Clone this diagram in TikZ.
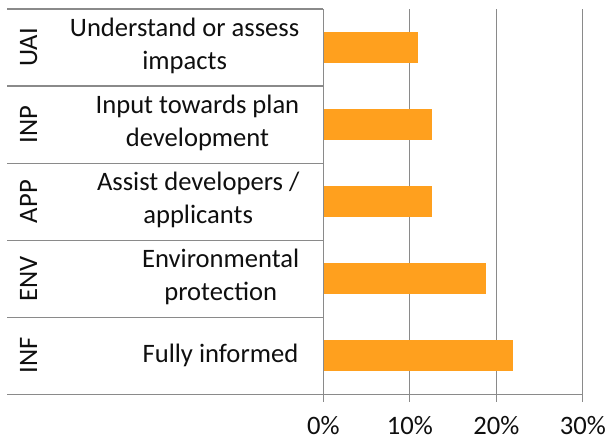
\documentclass[tikz,border=0pt]{standalone}
\usepackage{fontspec}
\setmainfont{Carlito}
\definecolor{gridgrey}{RGB}{138,138,138}
\definecolor{barorange}{RGB}{255,160,30}
\definecolor{txt}{RGB}{15,15,15}
\begin{document}
\begin{tikzpicture}[x=1pt,y=-1pt,
  gridline/.style={draw=gridgrey,line width=1.3pt},
  barbox/.style={fill=barorange,draw=none,inner sep=0pt,minimum height=31pt,anchor=west},
  catlab/.style={anchor=east,align=center,inner sep=0pt,text=txt,font=\fontsize{26.6}{32.5}\selectfont},
  codelab/.style={anchor=base,rotate=90,inner sep=0pt,text=txt,font=\fontsize{26.6}{32.5}\selectfont},
  ticklab/.style={anchor=base,inner sep=0pt,text=txt,font=\fontsize{26.6}{32.5}\selectfont}]
\useasboundingbox (0,0) rectangle (608,440);
% gridlines and axis
\foreach \k/\nm in {0/g0,1/g1,2/g2,3/g3}{
  \coordinate (\nm t) at ({323.3+86.5*\k},9);
  \coordinate (\nm b) at ({323.3+86.5*\k},402);
  \draw[gridline] (\nm t) -- (\nm b);
}
% row separators
\foreach \i/\y in {0/9,1/86.1,2/163.2,3/240.3,4/317.4}{
  \coordinate (l\i) at (7,\y);
  \coordinate (r\i) at (323.3,\y);
  \draw[gridline] (l\i) -- (r\i);
}
\coordinate (l5) at (7,394.5);
\coordinate (r5) at (g3b |- l5);
\draw[gridline] (l5) -- (r5);
% bars
\node[barbox,minimum width={10.98*8.65pt}] (barUAI) at (323.3,47.3) {};
\node[barbox,minimum width={12.57*8.65pt}] (barINP) at (323.3,124.5) {};
\node[barbox,minimum width={12.57*8.65pt}] (barAPP) at (323.3,201.6) {};
\node[barbox,minimum width={18.8*8.65pt}] (barENV) at (323.3,278.7) {};
\node[barbox,minimum width={21.9*8.65pt}] (barINF) at (323.3,355.6) {};
% category labels
\node[catlab] (tUAI) at (299.5,46) {Understand or assess\\impacts};
\node[catlab] (tINP) at (299.5,123) {Input towards plan\\development};
\node[catlab] (tAPP) at (299.5,200) {Assist developers /\\applicants};
\node[catlab] (tENV) at (299.5,277) {Environmental\\protection};
\node[catlab] (tINF) at (298.5,355.6) {Fully informed};
% code labels
\node[codelab] (cUAI) at (37,47.3) {UAI};
\node[codelab] (cINP) at (37,124.5) {INP};
\node[codelab] (cAPP) at (37,201.6) {APP};
\node[codelab] (cENV) at (37,278.7) {ENV};
\node[codelab] (cINF) at (37,355.6) {INF};
% tick labels
\node[ticklab] (x0) at (323.3,434.5) {0\%};
\node[ticklab] (x1) at (409.8,434.5) {10\%};
\node[ticklab] (x2) at (496.3,434.5) {20\%};
\node[ticklab] (x3) at (582.8,434.5) {30\%};
\end{tikzpicture}
\end{document}
